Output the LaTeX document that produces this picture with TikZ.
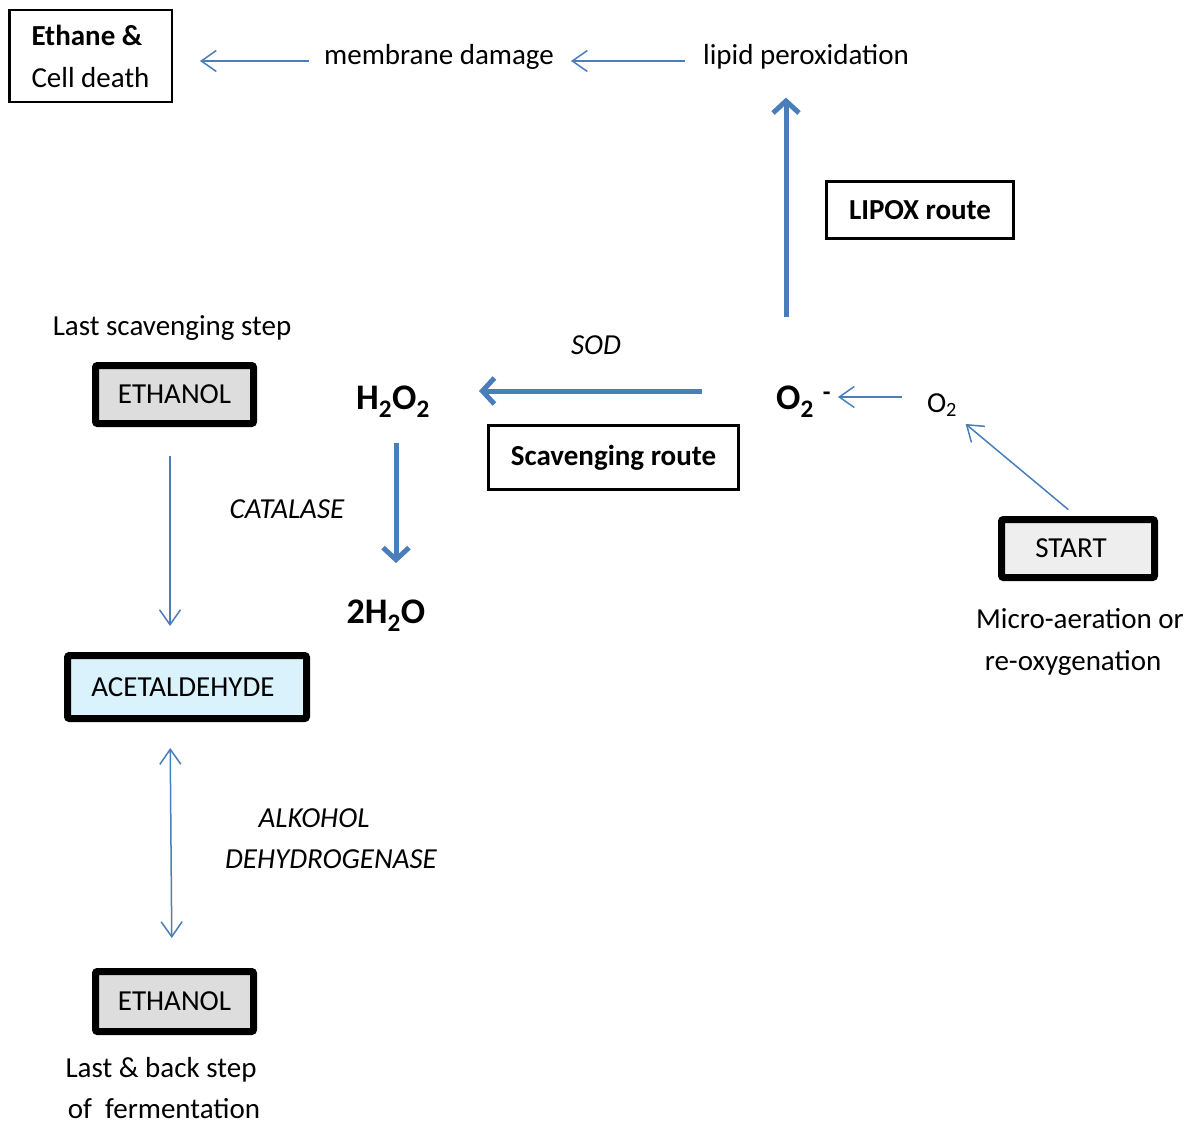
\documentclass[tikz,border=0pt]{standalone}
\usepackage{fontspec}
\setmainfont{Carlito}
\usetikzlibrary{arrows.meta}
\definecolor{arr}{HTML}{4A7EBB}
\definecolor{gfill}{HTML}{DDDDDD}
\definecolor{sfill}{HTML}{EEEEEE}
\definecolor{cfill}{HTML}{DAF2FB}
\begin{document}
\begin{tikzpicture}[x=1pt,y=-1pt,
  txt/.style={font=\fontsize{29}{42}\selectfont, inner sep=0pt},
  itxt/.style={font=\fontsize{29}{42}\selectfont\itshape, inner sep=0pt},
  btxt/.style={font=\fontsize{29}{42}\selectfont\bfseries, inner sep=0pt},
  chem/.style={font=\fontsize{36}{42}\selectfont\bfseries, inner sep=0pt},
  thinarrow/.style={draw=arr, line width=1.5pt, -{Straight Barb[length=15pt,width=21pt]}},
  thinboth/.style={draw=arr, line width=1.5pt, {Straight Barb[length=15pt,width=21pt]}-{Straight Barb[length=15pt,width=21pt]}},
  thickarrow/.style={draw=arr, line width=5pt, -{Straight Barb[length=12pt,width=26pt]}},
  linebox/.style={draw=black, line width=2.5pt, inner sep=0pt, font=\fontsize{29}{42}\selectfont},
  fatbox/.style={draw=black, line width=7pt, rounded corners=2pt, inner sep=0pt, font=\fontsize{29}{42}\selectfont},
]
\useasboundingbox (0,0) rectangle (1189,1124);

% boxes
\node[linebox, minimum width=162.5pt, minimum height=91.5pt, align=left] (ethane) at (90.5,56) {\textbf{Ethane \&}\\Cell death};
\node[linebox, line width=3pt, minimum width=187pt, minimum height=57pt, font=\fontsize{29}{42}\selectfont\bfseries] (lipox) at (920,210) {LIPOX route};
\node[linebox, line width=3pt, minimum width=250pt, minimum height=64pt, font=\fontsize{29}{42}\selectfont\bfseries] (scav) at (613.5,457.5) {Scavenging route};
\node[fatbox, fill=gfill, minimum width=158pt, minimum height=58pt] (eth1) at (174.5,394.5) {ETHANOL};
\node[fatbox, fill=cfill, minimum width=239pt, minimum height=63pt] (acet) at (187,687) {ACETALDEHYDE\hspace*{8pt}};
\node[fatbox, fill=gfill, minimum width=158pt, minimum height=60pt] (eth2) at (174.5,1001.5) {ETHANOL};
\node[fatbox, fill=sfill, minimum width=153pt, minimum height=58pt] (start) at (1078,548.5) {START\hspace*{14pt}};

% texts
\node[txt] (memb) at (439,57) {membrane damage};
\node[txt] (lipid) at (806,57) {lipid peroxidation};
\node[itxt] (sod) at (596,345) {SOD};
\node[chem] (h2o2) at (393,402) {H\textsubscript{2}O\textsubscript{2}};
\node[chem] (o2m) at (795,402) {O\textsubscript{2}\rlap{\hspace{0.25em}\textsuperscript{-}}};
\node[txt] (o2) at (942,405) {O\textsubscript{2}};
\node[txt] (micro1) at (1080,619) {Micro-aeration or};
\node[txt] (micro2) at (1073,663) {re-oxygenation};
\node[itxt] (catalase) at (287,509) {CATALASE};
\node[chem] (h2o) at (386,616) {2H\textsubscript{2}O};
\node[txt] (lastscav) at (172,328) {Last scavenging step};
\node[itxt] (alk1) at (314,818) {ALKOHOL};
\node[itxt] (alk2) at (331,859) {DEHYDROGENASE};
\node[txt] (last1) at (161,1070) {Last \& back step};
\node[txt] (last2) at (164,1109) {of\ \ fermentation};

% connectors
\draw[thinarrow, shorten <=15pt, shorten >=27pt] ([yshift=-4pt]memb.west) -- ([yshift=-4pt]memb.west -| ethane.east);
\draw[thinarrow, shorten <=18pt, shorten >=17pt] ([yshift=-4pt]lipid.west) -- ([yshift=-4pt]memb.east);
\draw[thickarrow, shorten <=69pt, shorten >=28pt] ([xshift=-9pt]o2m.north) -- ([xshift=-9pt]o2m.north |- lipid.south);
\draw[thickarrow, shorten <=74pt, shorten >=49pt] ([yshift=11pt]o2m.west) -- ([yshift=11pt]o2m.west -| h2o2.east);
\draw[thinarrow, shorten <=25pt, shorten >=24pt] ([yshift=8pt]o2.west) -- ([yshift=5pt]o2m.east);
\draw[thinarrow, shorten <=10pt, shorten >=11pt] ([xshift=-2pt]start.north) -- (o2.south east);
\draw[thickarrow, shorten <=25pt, shorten >=37pt] ([xshift=3pt]h2o2.south) -- ([xshift=3pt]h2o2.south |- h2o.north);
\draw[thinarrow, shorten <=29pt, shorten >=26pt] ([xshift=-4.5pt]eth1.south) -- ([xshift=-4.5pt]eth1.south |- acet.north);
\draw[thinboth, shorten <=26pt, shorten >=30pt] ([xshift=-17pt]acet.south) -- ([xshift=-2.5pt]eth2.north);
\end{tikzpicture}
\end{document}
